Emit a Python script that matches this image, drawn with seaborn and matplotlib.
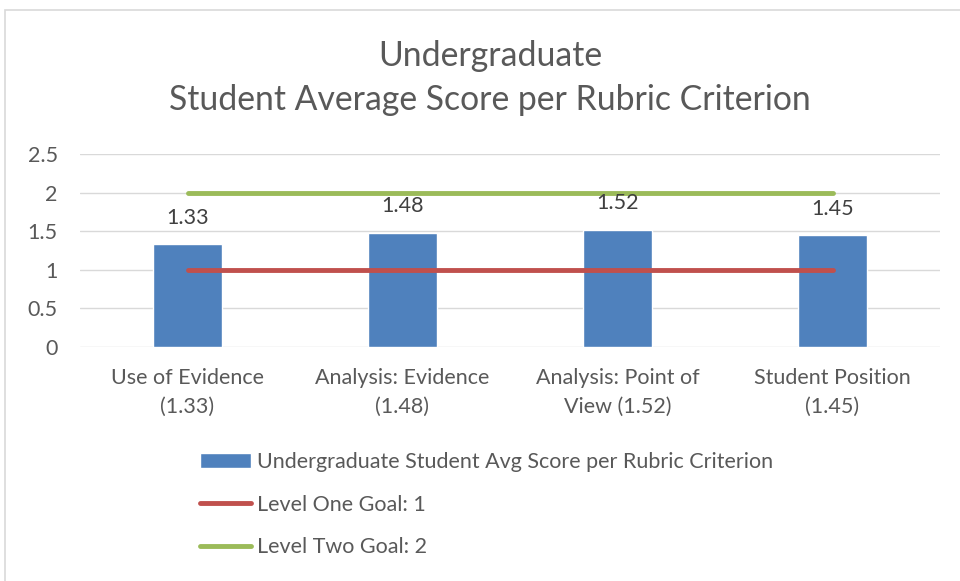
import numpy as np
import pandas as pd
import matplotlib
matplotlib.use("Agg")
import matplotlib.pyplot as plt
import seaborn as sns
from matplotlib.patches import Rectangle

# data
categories = ["Use of Evidence\n(1.33)", "Analysis: Evidence\n(1.48)",
              "Analysis: Point of\nView (1.52)", "Student Position\n(1.45)"]
avg_scores = [1.33, 1.48, 1.52, 1.45]
level_one_goal = [1, 1, 1, 1]
level_two_goal = [2, 2, 2, 2]
y_ticks = [0, 0.5, 1, 1.5, 2, 2.5]
y_tick_labels = ["0", "0.5", "1", "1.5", "2", "2.5"]

bar_name = "Undergraduate Student Avg Score per Rubric Criterion"
df = pd.DataFrame({"criterion": categories, "score": avg_scores})

sns.set_theme(style="white")
plt.rcParams['font.family'] = ['Lato', 'DejaVu Sans']
text_col = "#595959"
fs = 15.5

fig = plt.figure(figsize=(9.6, 5.81), dpi=100)
ax = fig.add_axes([80 / 960, 1 - 347 / 581, 860 / 960, 193 / 581])

# gridlines
for y in y_ticks:
    ax.axhline(y, color="#D9D9D9", lw=1, zorder=0)

sns.barplot(data=df, x="criterion", y="score", color="#4F81BD", width=0.32,
            saturation=1, ax=ax, label=bar_name, zorder=2)

xs = np.arange(len(categories))
ax.plot(xs, level_one_goal, color="#C0504D", lw=3.5, solid_capstyle="round",
        label="Level One Goal: 1", zorder=3)
ax.plot(xs, level_two_goal, color="#9BBB59", lw=3.5, solid_capstyle="round",
        label="Level Two Goal: 2", zorder=3)

# data labels
for i, v in enumerate(avg_scores):
    ax.text(i, v + 0.34, f"{v:.2f}", ha="center", va="center",
            fontsize=fs, color="#404040")

ax.set_xlim(-0.5, len(categories) - 0.5)
ax.set_ylim(0, 2.5)
ax.set_yticks(y_ticks)
ax.set_yticklabels(y_tick_labels)
ax.set_xlabel("")
ax.set_ylabel("")
ax.tick_params(axis="y", labelsize=fs, labelcolor=text_col, length=0, pad=16)
ax.tick_params(axis="x", labelsize=fs, labelcolor=text_col, length=0, pad=15)
for s in ax.spines.values():
    s.set_visible(False)
for lbl in ax.get_xticklabels():
    lbl.set_linespacing(1.55)

fig.text(490 / 960, 1 - 78 / 581,
         "Undergraduate\nStudent Average Score per Rubric Criterion",
         ha="center", va="center", fontsize=24.3, color=text_col, linespacing=1.45)

handles, labels = ax.get_legend_handles_labels()
if ax.get_legend() is not None:
    ax.get_legend().remove()
order = [labels.index(bar_name), labels.index("Level One Goal: 1"),
         labels.index("Level Two Goal: 2")]
leg = fig.legend([handles[i] for i in order], [labels[i] for i in order],
                 loc="upper left", bbox_to_anchor=(200 / 960, 1 - 452 / 581),
                 ncol=1, frameon=False, fontsize=fs, labelspacing=1.05,
                 handlelength=2.35, handletextpad=0.3, borderaxespad=0,
                 borderpad=0)
for t in leg.get_texts():
    t.set_color(text_col)

# chart frame
fig.patches.append(Rectangle((5 / 960, -0.05), 1.0, 1 - 10 / 581 + 0.05,
                             transform=fig.transFigure, fill=False,
                             edgecolor="#D9D9D9", lw=1.2))

fig.savefig("out.png", dpi=100, facecolor="white")
